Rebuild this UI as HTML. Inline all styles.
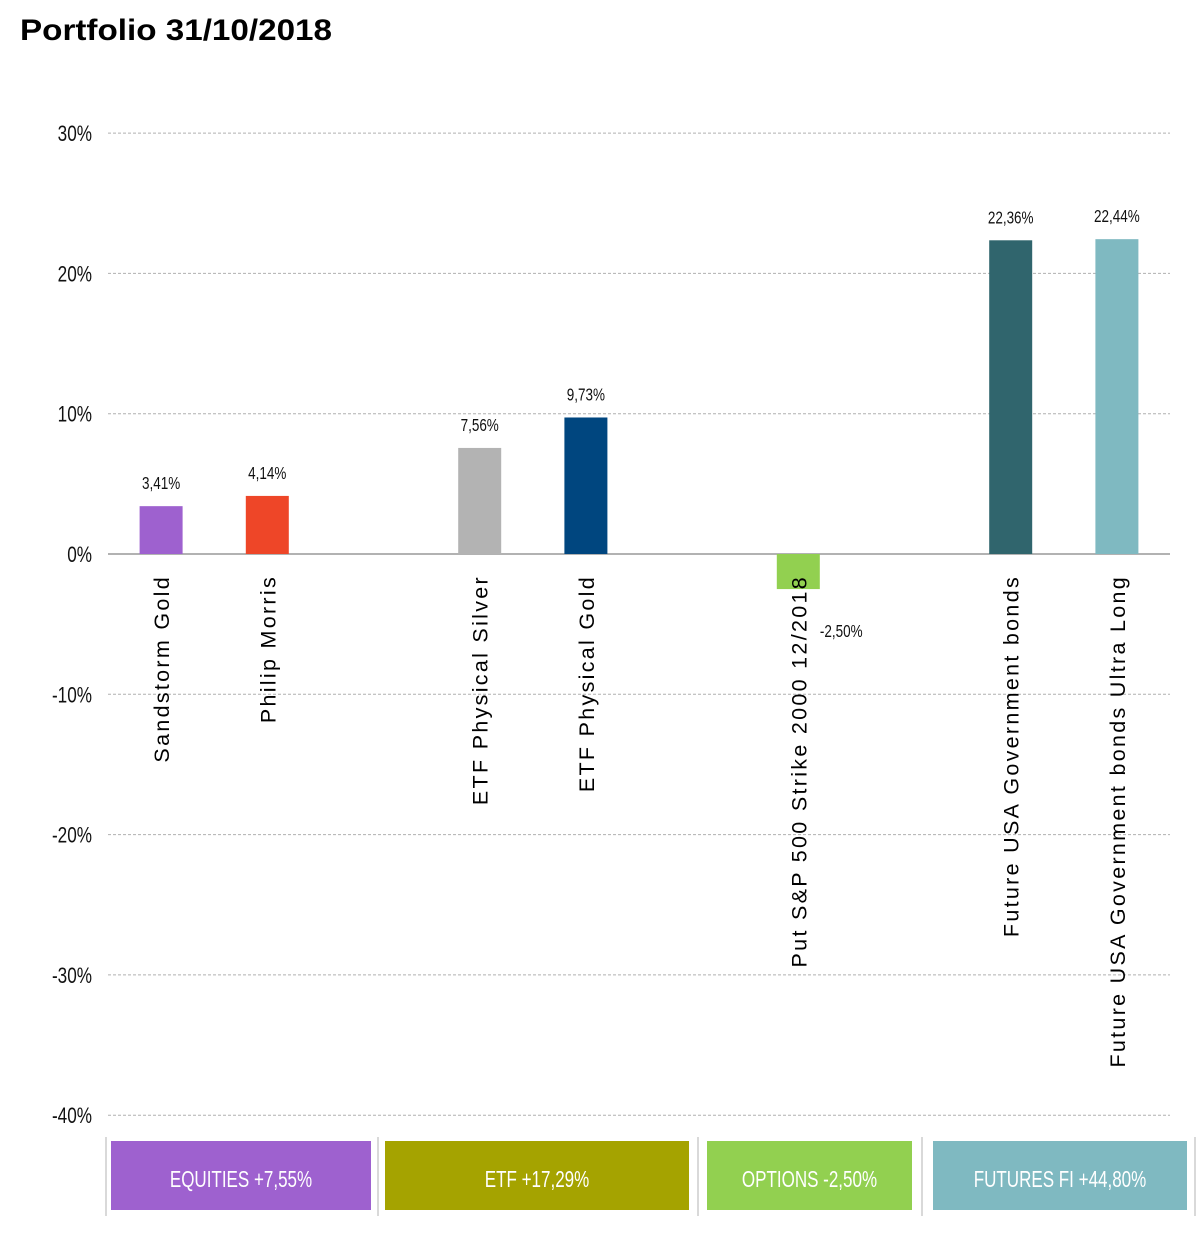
<!DOCTYPE html>
<html><head><meta charset="utf-8"><style>
body{margin:0;background:#fff;width:1200px;height:1231px;overflow:hidden;font-family:"Liberation Sans",sans-serif}
</style></head><body>
<svg width="1200" height="1231">
<text x="20" y="40" font-size="30" font-weight="bold" fill="#000" textLength="312" lengthAdjust="spacingAndGlyphs">Portfolio 31/10/2018</text>
<g id="grid"></g><g id="bars"></g><g id="groups"></g>
</svg>
<script>
const categories=["Sandstorm Gold","Philip Morris","","ETF Physical Silver","ETF Physical Gold","","Put S&P 500 Strike 2000 12/2018","","Future USA Government bonds","Future USA Government bonds Ultra Long"];
const values=[3.41,4.14,null,7.56,9.73,null,-2.50,null,22.36,22.44];
const printed=["3,41%","4,14%","","7,56%","9,73%","","-2,50%","","22,36%","22,44%"];
const colors=["#9e61cf","#ee4628","","#b3b3b3","#00467f","","#92d050","","#30656d","#7fb9c1"];
const ticks=[30,20,10,0,-10,-20,-30,-40];
const groupLabels=["EQUITIES +7,55%","ETF +17,29%","OPTIONS -2,50%","FUTURES FI +44,80%"];
const groupColors=["#9e61cf","#a5a300","#92d050","#7fb9c1"];
const NS="http://www.w3.org/2000/svg";
const x0=108,x1=1170,slot=(x1-x0)/categories.length;
const y=v=>554-v*14.03;
const xc=i=>x0+slot*(i+0.5);
function mk(p,t,a,txt){const e=document.createElementNS(NS,t);for(const k in a)e.setAttribute(k,a[k]);if(txt!=null)e.textContent=txt;p.appendChild(e);return e;}
const g=document.getElementById('grid');
ticks.forEach(t=>{
 const l=mk(g,'line',{x1:x0,x2:x1,y1:y(t),y2:y(t),stroke:t===0?'#999':'#b0b0b0','stroke-width':t===0?1.5:1,'stroke-dasharray':t===0?'':'3,2'});
 
 
 const tx=mk(g,'text',{x:92,y:y(t)+8,'font-size':22,'text-anchor':'end',fill:'#111',transform:`translate(92 0) scale(0.78 1) translate(-92 0)`},t+'%');
 
 
});
const b=document.getElementById('bars');
values.forEach((v,i)=>{
 if(v===null)return;
 const cx=xc(i),w=43;
 const r=mk(b,'rect',{x:cx-w/2,y:Math.min(y(v),y(0)),width:w,height:Math.abs(y(v)-y(0)),fill:colors[i]});
 
 
 const lx=v<0?cx+43:cx, ly=v<0?y(v)+48:y(v)-17;
 const t=mk(b,'text',{x:lx,y:ly,'font-size':18,'text-anchor':'middle',fill:'#111',transform:`translate(${lx} 0) scale(0.75 1) translate(${-lx} 0)`},printed[i]);
 
 
 const c=mk(b,'text',{x:0,y:0,'font-size':21.5,'letter-spacing':'2.3','text-anchor':'end',fill:'#000',transform:`translate(${cx+8} 575) rotate(-90)`},categories[i]);
 
 
});
const gg=document.getElementById('groups');
const boxes=[[111,371],[385,689],[707,912],[933,1187]];
[106,378,698,922,1195].forEach(xx=>{const l=mk(gg,'line',{x1:xx,x2:xx,y1:1137,y2:1216,stroke:'#ccc','stroke-width':1.5});});
groupLabels.forEach((s,i)=>{
 const [a,c]=boxes[i];
 const r=mk(gg,'rect',{x:a,y:1141,width:c-a,height:69,fill:groupColors[i]});
 
 
 const mx=(a+c)/2;
 const t=mk(gg,'text',{x:mx,y:1187,'font-size':23,'text-anchor':'middle',fill:'#fff',transform:`translate(${mx} 0) scale(0.74 1) translate(${-mx} 0)`},s);
 
 
});
</script>
</body></html>
